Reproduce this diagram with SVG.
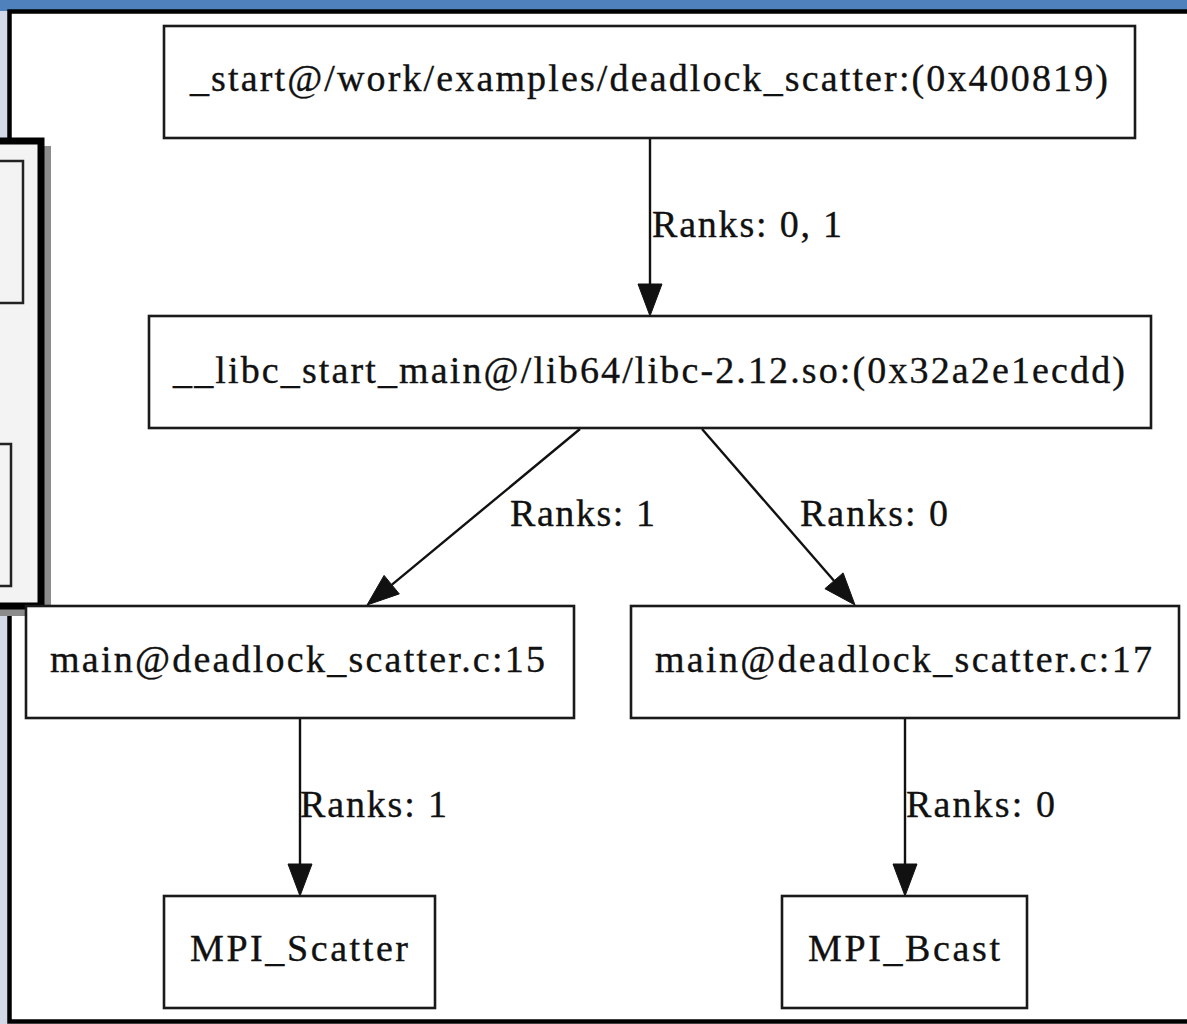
<svg xmlns="http://www.w3.org/2000/svg" width="1187" height="1024" viewBox="0 0 1187 1024">
  <style>
    .node rect { fill: #ffffff; stroke: #1a1a1a; stroke-width: 2.6; }
    .node text, .label { font-family: "Liberation Serif", "Times New Roman", serif; font-size: 38px; fill: #111111; stroke: #111111; stroke-width: 0.35; }
    .edge line { stroke: #111111; stroke-width: 2.4; }
    .edge polygon { fill: #111111; stroke: #111111; stroke-width: 1; }
  </style>
  <!-- background screenshot context -->
  <rect x="0" y="0" width="1187" height="1024" fill="#ffffff"/>
  <rect x="0" y="0" width="1187" height="11" fill="#4f81bd"/>
  <rect x="0" y="11" width="8" height="1013" fill="#d2d8e7"/>
  <rect x="9.5" y="11.5" width="1190" height="1010" fill="#ffffff" stroke="#000000" stroke-width="4.5"/>
  <!-- left overlapping panel -->
  <rect x="-4" y="146" width="55" height="470" fill="#8c8c8c"/>
  <rect x="-10" y="141" width="51" height="465" fill="#f3f3f3" stroke="#000000" stroke-width="7"/>
  <path d="M0 161 H23 V303 H0" fill="none" stroke="#222222" stroke-width="2.5"/>
  <path d="M0 444 H11 V586 H0" fill="none" stroke="#222222" stroke-width="2.5"/>

  <g id="connectors" class="edge">
    <line x1="650" y1="138" x2="650" y2="285"/>
    <polygon points="638,284 662,284 650,316"/>
    <line x1="580" y1="429" x2="392" y2="584.6"/>
    <polygon points="399.3,593.9 384.1,575.4 367,605"/>
    <line x1="702" y1="429" x2="834" y2="580.8"/>
    <polygon points="843.1,572.9 824.9,588.7 855,605"/>
    <line x1="300" y1="718" x2="300" y2="865"/>
    <polygon points="288,864 312,864 300,896"/>
    <line x1="905" y1="718" x2="905" y2="865"/>
    <polygon points="893,864 917,864 905,896"/>
    <text class="label" x="652" y="237" textLength="190" lengthAdjust="spacing">Ranks: 0, 1</text>
    <text class="label" x="510" y="526" textLength="145" lengthAdjust="spacing">Ranks: 1</text>
    <text class="label" x="800" y="526" textLength="148" lengthAdjust="spacing">Ranks: 0</text>
    <text class="label" x="300" y="817" textLength="147" lengthAdjust="spacing">Ranks: 1</text>
    <text class="label" x="906" y="817" textLength="149" lengthAdjust="spacing">Ranks: 0</text>
  </g>

  <g id="node-start" class="node">
    <rect x="164" y="26" width="971" height="112"/>
    <text x="190" y="91" textLength="918" lengthAdjust="spacing">_start@/work/examples/deadlock_scatter:(0x400819)</text>
  </g>
  <g id="node-libc" class="node">
    <rect x="149" y="316" width="1002" height="112"/>
    <text x="173" y="383" textLength="952" lengthAdjust="spacing">__libc_start_main@/lib64/libc-2.12.so:(0x32a2e1ecdd)</text>
  </g>
  <g id="node-main15" class="node">
    <rect x="26" y="606" width="548" height="112"/>
    <text x="50" y="672" textLength="495" lengthAdjust="spacing">main@deadlock_scatter.c:15</text>
  </g>
  <g id="node-main17" class="node">
    <rect x="631" y="606" width="548" height="112"/>
    <text x="655" y="672" textLength="497" lengthAdjust="spacing">main@deadlock_scatter.c:17</text>
  </g>
  <g id="node-scatter" class="node">
    <rect x="164" y="896" width="271" height="112"/>
    <text x="190" y="961" textLength="218" lengthAdjust="spacing">MPI_Scatter</text>
  </g>
  <g id="node-bcast" class="node">
    <rect x="782" y="896" width="245" height="112"/>
    <text x="808" y="961" textLength="192" lengthAdjust="spacing">MPI_Bcast</text>
  </g>
</svg>
